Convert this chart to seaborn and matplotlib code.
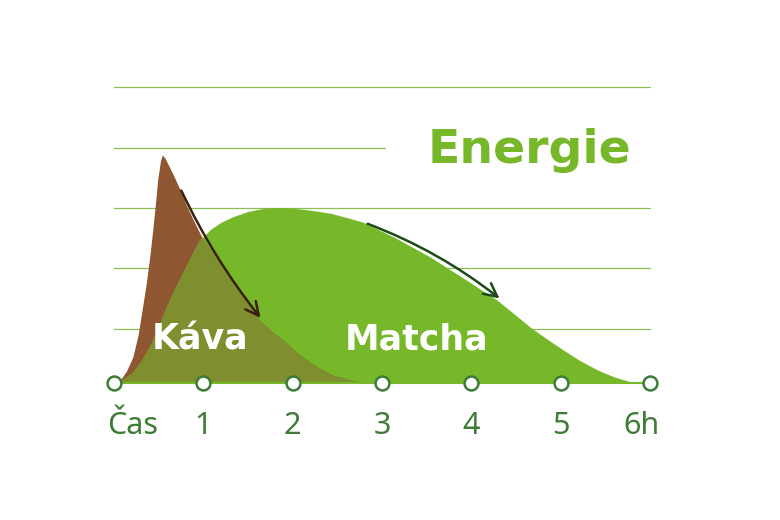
import matplotlib
matplotlib.use("Agg")
import matplotlib.pyplot as plt
import seaborn as sns
import pandas as pd

# ---- data (hours, energy) ----
coffee_hours = [0, 0.07, 0.14, 0.21, 0.27, 0.32, 0.36, 0.40, 0.43, 0.46, 0.49, 0.52, 0.54,
                0.57, 0.61, 0.66, 0.74, 0.82, 0.91, 1.0, 1.16, 1.33, 1.48, 1.63, 1.76, 1.89,
                2.07, 2.27, 2.45, 2.64, 2.80, 2.98]
coffee_energy = [0, 0.05, 0.2, 0.43, 0.8, 1.27, 1.65, 2.1, 2.5, 2.93, 3.4, 3.7, 3.8,
                 3.75, 3.63, 3.48, 3.22, 2.93, 2.65, 2.38, 2.05, 1.72, 1.38, 1.05, 0.87, 0.72,
                 0.48, 0.27, 0.13, 0.05, 0.01, 0]

matcha_hours = [0, 0.1, 0.21, 0.3, 0.40, 0.5, 0.59, 0.68, 0.77, 0.86, 0.96, 1.08, 1.2, 1.33,
                1.5, 1.71, 1.97, 2.2, 2.42, 2.6, 2.79, 3.15, 3.54, 3.92, 4.29, 4.48, 4.66,
                4.85, 5.03, 5.22, 5.41, 5.6, 5.78, 6.0]
matcha_energy = [0, 0.06, 0.17, 0.35, 0.6, 0.93, 1.27, 1.56, 1.83, 2.1, 2.38, 2.56, 2.68, 2.77,
                 2.86, 2.92, 2.92, 2.88, 2.83, 2.76, 2.68, 2.42, 2.1, 1.74, 1.38, 1.15, 0.93,
                 0.73, 0.55, 0.37, 0.22, 0.1, 0.02, 0]

grid_levels = [0.9, 1.92, 2.92, 3.92, 4.93]
grid_ends = [6, 6, 6, 3.03, 6]

tick_hours = [0, 1, 2, 3, 4, 5, 6]
tick_labels = ["Čas", "1", "2", "3", "4", "5", "6h"]

BROWN = "#8F5632"
GREEN = "#76B82A"
OLIVE = "#7F8E2F"
LINE_GREEN = "#8CC152"
DARK_GREEN = "#3E7B37"

sns.set_theme(style="white")
plt.rcParams["font.family"] = ["DejaVu Sans"]

fig = plt.figure(figsize=(7.8, 5.2), dpi=100)
ax = fig.add_axes([0, 0, 1, 1])
ax.set_xlim(-114 / 89.33, 666 / 89.33)
ax.set_ylim(-137 / 60, 383 / 60)
ax.axis("off")

# background grid lines
for lvl, end in zip(grid_levels, grid_ends):
    ax.plot([0, end], [lvl, lvl], color=LINE_GREEN, lw=0.9, zorder=1)

# matcha area
matcha_poly = ax.fill_between(matcha_hours, matcha_energy, 0, color=GREEN, lw=0, zorder=2)
# coffee area
ax.fill_between(coffee_hours, coffee_energy, 0, color=BROWN, lw=0, zorder=3)
# overlap: coffee clipped to the matcha area
overlap = ax.fill_between(coffee_hours, coffee_energy, 0, color=OLIVE, lw=0, zorder=4)
overlap.set_clip_path(matcha_poly.get_paths()[0], ax.transData)

# baseline with circle markers
ax.plot([0, 6], [0, 0], color=GREEN, lw=1.5, zorder=5)
df_ticks = pd.DataFrame({"hour": tick_hours, "y": [0] * len(tick_hours)})
sns.scatterplot(data=df_ticks, x="hour", y="y", s=100, color="white",
                edgecolor=DARK_GREEN, linewidth=1.8, zorder=6, ax=ax)

# tick labels
label_x = [0.21, 1, 2, 3, 4, 5, 5.91]
for lx, lab in zip(label_x, tick_labels):
    ax.text(lx, -0.72, lab, ha="center", va="center", fontsize=22,
            family=["Noto Sans", "DejaVu Sans"], fontweight="light",
            color=DARK_GREEN, zorder=7)

# arrows
ax.annotate("", xy=(1.66, 1.05), xytext=(0.74, 3.25),
            arrowprops=dict(arrowstyle="->,head_length=0.8,head_width=0.4", color="#3A210E",
                            lw=1.8, connectionstyle="arc3,rad=0.06"), zorder=8)
ax.annotate("", xy=(4.34, 1.38), xytext=(2.81, 2.67),
            arrowprops=dict(arrowstyle="->,head_length=0.8,head_width=0.4", color="#1F4A1A",
                            lw=1.8, connectionstyle="arc3,rad=-0.08"), zorder=8)

# labels
ax.text(0.96, 0.72, "Káva", ha="center", va="center", fontsize=25,
        fontweight="bold", color="white", zorder=9)
ax.text(3.39, 0.72, "Matcha", ha="center", va="center", fontsize=25,
        fontweight="bold", color="white", zorder=9)
ax.text(4.65, 3.87, "Energie", ha="center", va="center", fontsize=34,
        fontweight="bold", color=GREEN, zorder=9)

fig.savefig("out.png", dpi=100)
